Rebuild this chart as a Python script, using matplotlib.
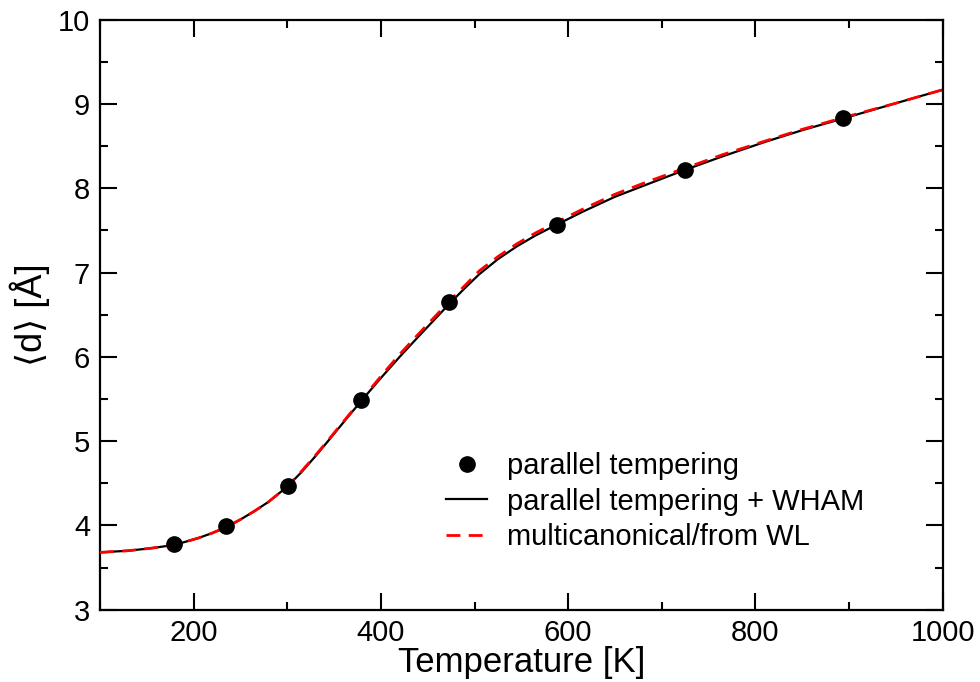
import numpy as np
import matplotlib as mpl
mpl.use('Agg')
import matplotlib.pyplot as plt

mpl.rcParams.update({'font.size': 21,
                     'font.family': ['Liberation Sans', 'DejaVu Sans']})

# parallel tempering replicas
pt_temps = [179, 235, 301, 379, 473, 588, 725, 893]
pt_dist = [3.78, 3.99, 4.47, 5.49, 6.65, 7.56, 8.22, 8.83]

# parallel tempering + WHAM
wham_temps = [100, 130, 155, 180, 205, 220, 235, 250, 265, 280, 300, 315, 330,
              345, 365, 380, 400, 420, 440, 457, 474, 490, 505, 525, 545, 565,
              588, 615, 650, 685, 725, 765, 810, 850, 894, 950, 1000]
wham_dist = [3.68, 3.70, 3.73, 3.77, 3.85, 3.91, 3.98, 4.07, 4.17, 4.28, 4.46, 4.63, 4.82,
             5.02, 5.29, 5.49, 5.75, 6.00, 6.24, 6.44, 6.64, 6.82, 6.98, 7.16, 7.31, 7.44,
             7.57, 7.72, 7.90, 8.05, 8.22, 8.38, 8.55, 8.69, 8.83, 9.01, 9.17]

# multicanonical from Wang-Landau
muca_temps = [100, 130, 155, 180, 205, 220, 235, 250, 265, 280, 300, 315, 330,
              345, 365, 380, 400, 420, 440, 457, 474, 490, 505, 525, 545, 565,
              588, 615, 650, 685, 725, 765, 810, 850, 894, 950, 1000]
muca_dist = [3.68, 3.70, 3.73, 3.77, 3.85, 3.91, 3.98, 4.07, 4.17, 4.28, 4.46, 4.64, 4.83,
             5.03, 5.30, 5.50, 5.77, 6.03, 6.27, 6.47, 6.67, 6.85, 7.02, 7.19, 7.34, 7.47,
             7.60, 7.75, 7.93, 8.08, 8.24, 8.40, 8.56, 8.70, 8.84, 9.01, 9.17]


def plot_dist(save_path):
    fig = plt.figure(figsize=(9.8, 6.82), dpi=100)
    ax = fig.add_axes([0.102, 0.106, 0.860, 0.865])

    ax.plot(pt_temps, pt_dist, 'o', color='black', markersize=11,
            label="parallel tempering", zorder=4)
    ax.plot(wham_temps, wham_dist, '-', color='black', lw=1.6,
            label="parallel tempering + WHAM", zorder=2)
    ax.plot(muca_temps, muca_dist, '--', color='red', lw=2.0, dashes=(5, 3),
            label="multicanonical/from WL", zorder=3)

    ax.set_xlim(100, 1000)
    ax.set_ylim(3, 10)
    ax.set_xticks(np.arange(200, 1001, 200))
    ax.set_xticks(np.arange(100, 1001, 100), minor=True)
    ax.set_yticks(np.arange(3, 11, 1))
    ax.set_yticks(np.arange(3, 10.01, 0.5), minor=True)
    ax.tick_params(which='both', direction='in', top=True, right=True, width=1.5)
    ax.tick_params(which='major', length=12, pad=7)
    ax.tick_params(which='minor', length=6)
    for sp in ax.spines.values():
        sp.set_linewidth(1.6)

    ax.set_xlabel("Temperature [K]", fontsize=25, labelpad=-1)
    ax.set_ylabel("\u27e8d\u27e9 [\u00c5]", fontsize=26, labelpad=6)

    ax.legend(loc='lower left', bbox_to_anchor=(0.397, 0.08), frameon=False,
              handlelength=1.4, handletextpad=0.7, labelspacing=0.25,
              borderaxespad=0, numpoints=1)

    plt.savefig(save_path, dpi=100)
    plt.close(fig)


if __name__ == "__main__":
    plot_dist("out.png")
